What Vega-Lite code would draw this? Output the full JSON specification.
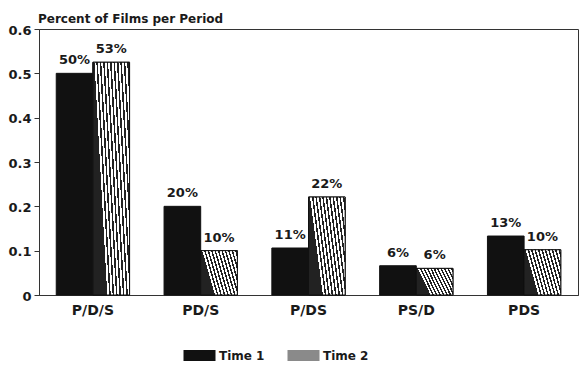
{
  "$schema": "https://vega.github.io/schema/vega-lite/v6.json",
  "width": 539,
  "height": 266,
  "autosize": {"type": "none"},
  "padding": {"left": 39, "top": 29, "right": 5, "bottom": 70},
  "background": "white",
  "title": {"text": "Percent of Films per Period", "anchor": "start", "frame": "group", "font": "DejaVu Sans", "fontSize": 12, "fontWeight": "bold", "color": "#1a1a1a", "offset": -2, "dx": -1},
  "config": {
    "view": {"stroke": "#333", "strokeWidth": 1},
    "text": {"font": "DejaVu Sans"}
  },
  "data": {
    "values": [
      {"pattern": "P/D/S", "time": "Time 1", "value": 0.5, "label": "50%"},
      {"pattern": "P/D/S", "time": "Time 2", "value": 0.525, "label": "53%"},
      {"pattern": "PD/S", "time": "Time 1", "value": 0.2, "label": "20%"},
      {"pattern": "PD/S", "time": "Time 2", "value": 0.1, "label": "10%"},
      {"pattern": "P/DS", "time": "Time 1", "value": 0.106, "label": "11%"},
      {"pattern": "P/DS", "time": "Time 2", "value": 0.221, "label": "22%"},
      {"pattern": "PS/D", "time": "Time 1", "value": 0.066, "label": "6%"},
      {"pattern": "PS/D", "time": "Time 2", "value": 0.06, "label": "6%"},
      {"pattern": "PDS", "time": "Time 1", "value": 0.133, "label": "13%"},
      {"pattern": "PDS", "time": "Time 2", "value": 0.102, "label": "10%"}
    ]
  },
  "encoding": {
    "x": {
      "field": "pattern", "type": "nominal",
      "sort": ["P/D/S", "PD/S", "P/DS", "PS/D", "PDS"],
      "scale": {"paddingInner": 0.32, "paddingOuter": 0.16},
      "axis": {"title": null, "ticks": false, "labelAngle": 0, "labelFont": "DejaVu Sans", "labelFontSize": 14, "labelFontWeight": "bold", "labelColor": "#1a1a1a", "labelPadding": 8, "domainColor": "#333"}
    },
    "xOffset": {"field": "time", "type": "nominal", "sort": ["Time 1", "Time 2"], "scale": {"domain": ["Time 1", "Time 2"]}},
    "y": {
      "field": "value", "type": "quantitative",
      "scale": {"domain": [0, 0.6], "nice": false},
      "axis": {"title": null, "values": [0, 0.1, 0.2, 0.3, 0.4, 0.5, 0.6], "format": ".1~f", "grid": false, "tickSize": 5, "tickColor": "#333", "domainColor": "#333", "labelFont": "DejaVu Sans", "labelFontSize": 13, "labelFontWeight": "bold", "labelColor": "#1a1a1a", "labelPadding": 3, "labelOffset": 1}
    }
  },
  "layer": [
    {
      "mark": {"type": "bar", "stroke": "#111", "strokeWidth": 1},
      "encoding": {
        "fill": {
          "field": "time", "type": "nominal",
          "scale": {"domain": ["Time 1", "Time 2"], "range": ["#111111", "#8a8a8a"]},
          "legend": {
            "title": null, "orient": "none", "direction": "horizontal",
            "legendX": 144, "legendY": 310,
            "symbolType": "M-1,-0.34H1V0.34H-1Z", "symbolSize": 1024,
            "symbolStrokeColor": "#111", "symbolStrokeWidth": 1, "symbolOpacity": 1,
            "labelFont": "DejaVu Sans", "labelFontSize": 12, "labelFontWeight": "bold", "labelColor": "#1a1a1a",
            "labelOffset": 3, "columnPadding": 20,
            "encode": {
              "symbols": {
                "update": {
                  "fill": {"value": {"expr": "datum.label === 'Time 2' ? {gradient: 'linear', x1: 0, y1: 0, x2: 1, y2: -0.35, stops: [{offset: 0, color: '#222'}, {offset: 0.045, color: '#222'}, {offset: 0.045, color: '#fff'}, {offset: 0.1, color: '#fff'}, {offset: 0.1, color: '#222'}, {offset: 0.145, color: '#222'}, {offset: 0.145, color: '#fff'}, {offset: 0.2, color: '#fff'}, {offset: 0.2, color: '#222'}, {offset: 0.245, color: '#222'}, {offset: 0.245, color: '#fff'}, {offset: 0.3, color: '#fff'}, {offset: 0.3, color: '#222'}, {offset: 0.345, color: '#222'}, {offset: 0.345, color: '#fff'}, {offset: 0.4, color: '#fff'}, {offset: 0.4, color: '#222'}, {offset: 0.445, color: '#222'}, {offset: 0.445, color: '#fff'}, {offset: 0.5, color: '#fff'}, {offset: 0.5, color: '#222'}, {offset: 0.545, color: '#222'}, {offset: 0.545, color: '#fff'}, {offset: 0.6, color: '#fff'}, {offset: 0.6, color: '#222'}, {offset: 0.645, color: '#222'}, {offset: 0.645, color: '#fff'}, {offset: 0.7, color: '#fff'}, {offset: 0.7, color: '#222'}, {offset: 0.745, color: '#222'}, {offset: 0.745, color: '#fff'}, {offset: 0.8, color: '#fff'}, {offset: 0.8, color: '#222'}, {offset: 0.845, color: '#222'}, {offset: 0.845, color: '#fff'}, {offset: 0.9, color: '#fff'}, {offset: 0.9, color: '#222'}, {offset: 0.945, color: '#222'}, {offset: 0.945, color: '#fff'}, {offset: 1, color: '#fff'}]} : '#111111'"}}
                }
              }
            }
          }
        }
      }
    },
    {
      "transform": [{"filter": "datum.time === 'Time 2'"}],
      "mark": {"type": "bar", "stroke": "#111", "strokeWidth": 1,
        "fill": {"gradient": "linear", "x1": 0, "y1": 0, "x2": 1, "y2": -0.35, "stops": [
          {"offset": 0, "color": "#222"}, {"offset": 0.0375, "color": "#222"}, {"offset": 0.0375, "color": "#fff"}, {"offset": 0.0833, "color": "#fff"},
          {"offset": 0.0833, "color": "#222"}, {"offset": 0.1208, "color": "#222"}, {"offset": 0.1208, "color": "#fff"}, {"offset": 0.1667, "color": "#fff"},
          {"offset": 0.1667, "color": "#222"}, {"offset": 0.2042, "color": "#222"}, {"offset": 0.2042, "color": "#fff"}, {"offset": 0.25, "color": "#fff"},
          {"offset": 0.25, "color": "#222"}, {"offset": 0.2875, "color": "#222"}, {"offset": 0.2875, "color": "#fff"}, {"offset": 0.3333, "color": "#fff"},
          {"offset": 0.3333, "color": "#222"}, {"offset": 0.3708, "color": "#222"}, {"offset": 0.3708, "color": "#fff"}, {"offset": 0.4167, "color": "#fff"},
          {"offset": 0.4167, "color": "#222"}, {"offset": 0.4542, "color": "#222"}, {"offset": 0.4542, "color": "#fff"}, {"offset": 0.5, "color": "#fff"},
          {"offset": 0.5, "color": "#222"}, {"offset": 0.5375, "color": "#222"}, {"offset": 0.5375, "color": "#fff"}, {"offset": 0.5833, "color": "#fff"},
          {"offset": 0.5833, "color": "#222"}, {"offset": 0.6208, "color": "#222"}, {"offset": 0.6208, "color": "#fff"}, {"offset": 0.6667, "color": "#fff"},
          {"offset": 0.6667, "color": "#222"}, {"offset": 0.7042, "color": "#222"}, {"offset": 0.7042, "color": "#fff"}, {"offset": 0.75, "color": "#fff"},
          {"offset": 0.75, "color": "#222"}, {"offset": 0.7875, "color": "#222"}, {"offset": 0.7875, "color": "#fff"}, {"offset": 0.8333, "color": "#fff"},
          {"offset": 0.8333, "color": "#222"}, {"offset": 0.8708, "color": "#222"}, {"offset": 0.8708, "color": "#fff"}, {"offset": 0.9167, "color": "#fff"},
          {"offset": 0.9167, "color": "#222"}, {"offset": 0.9542, "color": "#222"}, {"offset": 0.9542, "color": "#fff"}, {"offset": 1, "color": "#fff"}
        ]}
      },
      "encoding": {}
    },
    {
      "mark": {"type": "text", "baseline": "alphabetic", "dy": -9, "fontSize": 13, "fontWeight": "bold", "color": "#1a1a1a"},
      "encoding": {"text": {"field": "label"}}
    }
  ]
}
